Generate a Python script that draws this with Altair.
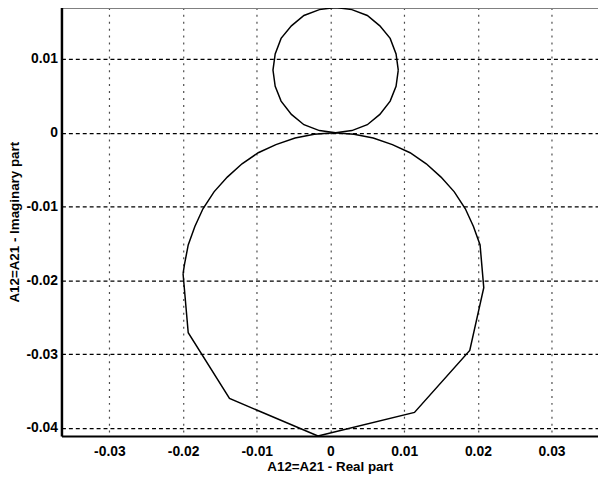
import altair as alt
import pandas as pd

# Small circle (upper loop)
small_re = [0.0092, 0.0089, 0.0081, 0.0067, 0.0050, 0.0029, 0.0007, -0.0015, -0.0036, -0.0053,
            -0.0067, -0.0075, -0.0078, -0.0075, -0.0067, -0.0053, -0.0036, -0.0015, 0.0007,
            0.0029, 0.0050, 0.0067, 0.0081, 0.0089, 0.0092]
small_im = [0.0085, 0.0107, 0.0128, 0.0145, 0.0159, 0.0167, 0.0170, 0.0167, 0.0159, 0.0145,
            0.0128, 0.0107, 0.0085, 0.0063, 0.0043, 0.0025, 0.0011, 0.0003, 0.0000,
            0.0003, 0.0011, 0.0025, 0.0043, 0.0063, 0.0085]

# Large loop (smooth top, coarse polygon at the bottom)
big_re = [-0.0200, -0.0198, -0.0193, -0.0184, -0.0173, -0.0158, -0.0140, -0.0120, -0.0098,
          -0.0074, -0.0048, -0.0022, 0.0005, 0.0032, 0.0058, 0.0084, 0.0108, 0.0130, 0.0150,
          0.0168, 0.0183, 0.0194, 0.0203, 0.0208, 0.0189, 0.0114, -0.0017, -0.0137, -0.0193,
          -0.0200]
big_im = [-0.0191, -0.0178, -0.0152, -0.0127, -0.0103, -0.0080, -0.0060, -0.0042, -0.0027,
          -0.0016, -0.0007, -0.0002, 0.0000, -0.0002, -0.0007, -0.0016, -0.0027, -0.0042, -0.0060,
          -0.0080, -0.0103, -0.0127, -0.0152, -0.0210, -0.0295, -0.0379, -0.0411, -0.0360, -0.0271,
          -0.0191]

x_ticks = [-0.03, -0.02, -0.01, 0, 0.01, 0.02, 0.03]
y_ticks = [-0.04, -0.03, -0.02, -0.01, 0, 0.01]

rows = []
for i, (a, b) in enumerate(zip(small_re, small_im)):
    rows.append({"re": a, "im": b, "curve": "small", "k": i})
for i, (a, b) in enumerate(zip(big_re, big_im)):
    rows.append({"re": a, "im": b, "curve": "big", "k": i})
df = pd.DataFrame(rows)

FONT = "Liberation Sans"
lab = "replace(format(datum.value, '.2~f'), '\u2212', '-')"

xs = alt.Scale(domain=[-0.0365, 0.0363], nice=False, zero=False)
ys = alt.Scale(domain=[-0.0411, 0.0170], nice=False, zero=False)

main = alt.Chart(df).mark_line(color="black", strokeWidth=1.5, clip=True).encode(
    x=alt.X("re:Q", scale=xs, title="A12=A21 - Real part",
            axis=alt.Axis(values=x_ticks, labelExpr=lab, grid=True, gridColor="black",
                          gridDash=[2, 5], gridOpacity=0.7, gridWidth=1.2,
                          domainColor="black", domainWidth=2, ticks=False,
                          labelPadding=9, titlePadding=1,
                          labelFont=FONT, labelFontSize=14, labelFontWeight="bold",
                          labelColor="black", titleFont=FONT, titleFontSize=13.5,
                          titleFontWeight="bold", titleColor="black")),
    y=alt.Y("im:Q", scale=ys, title="A12=A21 - Imaginary part",
            axis=alt.Axis(values=y_ticks, labelExpr=lab, grid=True, gridColor="black",
                          gridDash=[4, 3], gridWidth=1.2,
                          domainColor="black", domainWidth=2.5, ticks=False,
                          labelPadding=4, titlePadding=4,
                          labelFont=FONT, labelFontSize=14, labelFontWeight="bold",
                          labelColor="black", titleFont=FONT, titleFontSize=13.5,
                          titleFontWeight="bold", titleColor="black")),
    detail="curve:N",
    order="k:Q",
)

top = alt.Chart(df).mark_line(opacity=0).encode(
    x=alt.X("re:Q", scale=xs,
            axis=alt.Axis(orient="top", labels=False, ticks=False, grid=False, title=None,
                          domainColor="#808080", domainWidth=2)),
    y=alt.Y("im:Q", scale=ys),
    detail="curve:N",
    order="k:Q",
)

chart = alt.layer(main, top).resolve_axis(x="independent").properties(
    width=542, height=433,
    autosize=alt.AutoSizeParams(type="none"),
    padding={"left": 54, "top": -3, "right": 0, "bottom": 41},
).configure_view(stroke=None).configure(background="white")

chart.save("out.html", embed_options={"renderer": "svg", "actions": False})
